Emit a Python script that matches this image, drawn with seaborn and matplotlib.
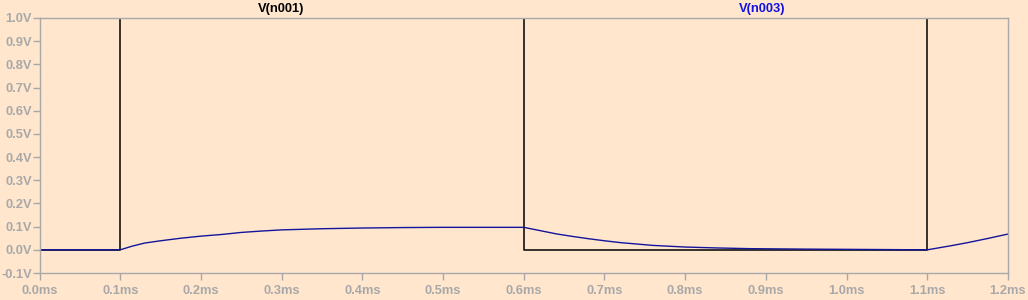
import matplotlib
matplotlib.use("Agg")
import matplotlib.pyplot as plt
import seaborn as sns
import pandas as pd

# V(n001): square wave (time in ms, volts)
t_n001 = [0.0, 0.1, 0.1, 0.6, 0.6, 1.1, 1.1, 1.2]
v_n001 = [0.0, 0.0, 1.0, 1.0, 0.0, 0.0, 1.0, 1.0]

# V(n003): RC response
t_n003 = [0.0, 0.1, 0.115, 0.13, 0.15, 0.175, 0.2, 0.225, 0.25, 0.275, 0.3, 0.35, 0.4, 0.45, 0.5, 0.55, 0.6,
          0.62, 0.64, 0.66, 0.68, 0.7, 0.72, 0.76, 0.8, 0.84, 0.88, 0.95, 1.0, 1.05, 1.1,
          1.115, 1.13, 1.15, 1.175, 1.2]
v_n003 = [0.0, 0.0, 0.016, 0.029, 0.039, 0.050, 0.059, 0.066, 0.075, 0.081, 0.086, 0.091, 0.094, 0.096, 0.097, 0.097, 0.097,
          0.083, 0.069, 0.058, 0.048, 0.039, 0.031, 0.019, 0.012, 0.008, 0.005, 0.003, 0.002, 0.001, 0.0,
          0.009, 0.018, 0.031, 0.049, 0.068]

x_ticks = [0.0, 0.1, 0.2, 0.3, 0.4, 0.5, 0.6, 0.7, 0.8, 0.9, 1.0, 1.1, 1.2]
y_ticks = [-0.1, 0.0, 0.1, 0.2, 0.3, 0.4, 0.5, 0.6, 0.7, 0.8, 0.9, 1.0]
trace_names = ["V(n001)", "V(n003)"]

bg = "#FFE6CD"
grey = "#A8A8A8"
blue = "#14149C"

sns.set_style("white")
plt.rcParams["font.family"] = ["Liberation Sans", "DejaVu Sans"]

fig = plt.figure(figsize=(10.28, 3.0), dpi=100, facecolor=bg)
ax = fig.add_axes([39.5 / 1028, 27 / 300, (1008 - 39.5) / 1028, 255 / 300])
ax.set_facecolor(bg)

df1 = pd.DataFrame({"t": t_n001, "v": v_n001})
df3 = pd.DataFrame({"t": t_n003, "v": v_n003})
sns.lineplot(data=df1, x="t", y="v", estimator=None, sort=False, color="black", linewidth=1.1, ax=ax)
sns.lineplot(data=df3, x="t", y="v", estimator=None, sort=False, color=blue, linewidth=1.0, ax=ax)

ax.set_xlim(0, 1.2)
ax.set_ylim(-0.1, 1.0)
ax.set_xticks(x_ticks)
ax.set_xticklabels([f"{v:.1f}ms" for v in x_ticks])
ax.set_yticks(y_ticks)
ax.set_yticklabels([f"{v:.1f}V" for v in y_ticks])
ax.set_xlabel("")
ax.set_ylabel("")

for s in ax.spines.values():
    s.set_color(grey)
    s.set_linewidth(1.0)
    s.set_visible(True)

ax.tick_params(axis="both", which="both", direction="out", length=5, width=1.0,
               color=grey, labelcolor=grey, labelsize=9.3)
ax.tick_params(axis="y", left=True, pad=0.5)
ax.tick_params(axis="x", bottom=True, pad=3.5)
for lab in ax.get_xticklabels() + ax.get_yticklabels():
    lab.set_fontweight("bold")

fig.text(281 / 1028, 1 - 9 / 300, trace_names[0], color="black", fontsize=9.3,
         fontweight="bold", ha="center", va="center")
fig.text(762 / 1028, 1 - 9 / 300, trace_names[1], color="#1010E0", fontsize=9.3,
         fontweight="bold", ha="center", va="center")

fig.savefig("out.png", dpi=100, facecolor=bg)
